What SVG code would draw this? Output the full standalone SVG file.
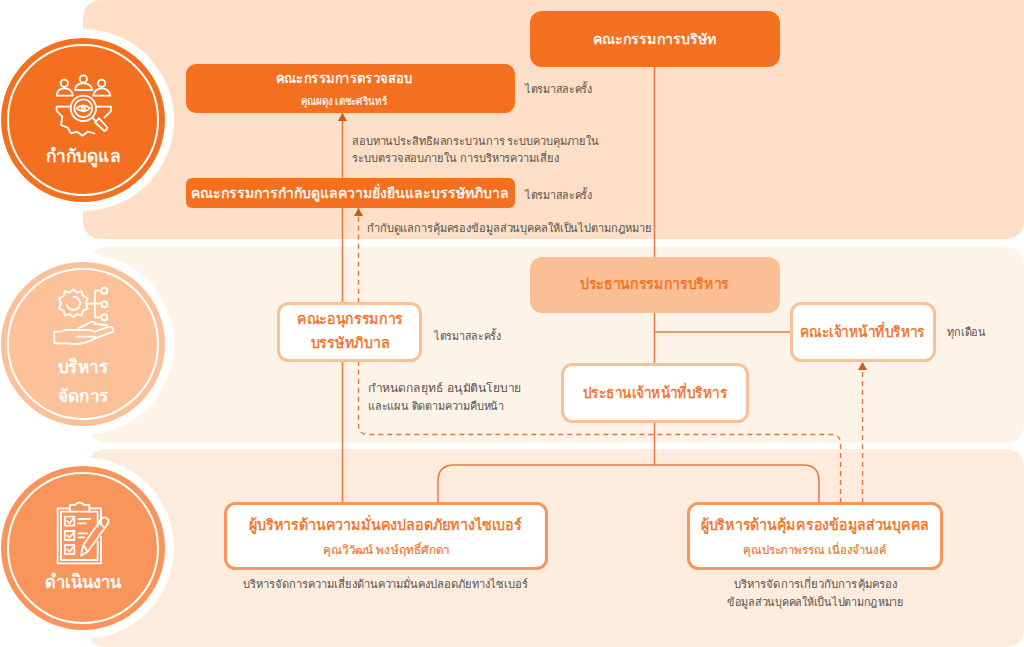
<svg xmlns="http://www.w3.org/2000/svg" width="1024" height="647" viewBox="0 0 1024 647">
<defs>
<style>
text{font-family:"Noto Sans","Open Sans","Liberation Sans",sans-serif;text-anchor:middle;font-kerning:normal}
.w{fill:#fff;stroke:#fff;stroke-width:.35;font-size:14px}
.ws{fill:#fff;stroke:#fff;stroke-width:.15;font-size:11px}
.o{fill:#f37021;stroke:#f37021;stroke-width:.4;font-size:14.500px}
.os{fill:#f37021;stroke:#f37021;stroke-width:.15;font-size:11.500px}
.n{fill:#58524e;font-size:11.200px}
.l{text-anchor:start}
.t{fill:#fff;stroke:#fff;stroke-width:.6;font-size:18px}
.b{fill:#fff;stroke:#fbbf95;stroke-width:3}
.b2{fill:#fff;stroke:#f9955a;stroke-width:3}
.c{fill:none;stroke:#e57a3c;stroke-width:1.500}
.d{fill:none;stroke:#e8743a;stroke-width:1.300;stroke-dasharray:5 4}
.i{fill:none;stroke:#fff;stroke-width:5.500;stroke-linejoin:round;stroke-linecap:round}
</style>
<marker id="a" markerWidth="9" markerHeight="9" refX="8" refY="4.500" orient="auto" markerUnits="userSpaceOnUse"><path d="M0 0L8 4.500L0 9Z" fill="#c9591c"/></marker>
</defs>
<rect width="1024" height="647" fill="#fff"/>
<g id="bands">
<path d="M83 20Q83 0 103 0H1024V219Q1024 239 1004 239H103Q83 239 83 219Z" fill="#fcdfc6"/>
<path d="M88 267Q88 247 108 247H1004Q1024 247 1024 267V423Q1024 443 1004 443H108Q88 443 88 423Z" fill="#fef3e9"/>
<path d="M88 469Q88 449 108 449H1004Q1024 449 1024 469V627Q1024 647 1004 647H108Q88 647 88 627Z" fill="#fdecdd"/>
</g>
<g id="connectors">
<path class="c" d="M654.500 67V465M654.500 332H791"/>
<path class="c" d="M438 503V481Q438 465 454 465H803Q819 465 819 481V503"/>
<path class="c" d="M342.500 178V113" marker-end="url(#a)"/>
<path class="c" d="M342.500 503V208"/>
<path class="d" d="M840.500 503V444Q840.500 434.500 831 434.500H368Q358.500 434.500 358.500 425V208" marker-end="url(#a)"/>
<path class="d" d="M862.500 503V362" marker-end="url(#a)"/>
</g>
<g id="stage-oversight">
<circle cx="83" cy="120" r="91" fill="#fff"/><circle cx="83" cy="120" r="82" fill="#f37021"/><circle cx="83" cy="120" r="75" fill="none" stroke="#fff" stroke-width="2"/>
<g transform="translate(45 65) scale(.33333)" class="i">
<circle cx="58" cy="55" r="11"/><circle cx="115" cy="42" r="11"/><circle cx="170" cy="55" r="11"/>
<path d="M35 92Q37 70 58 70Q80 70 84 92ZM90 75Q92 55 115 55Q138 55 142 75ZM145 92Q149 70 170 70Q192 70 196 92Z"/>
<path d="M77 125H35V138L52 155L48 180L68 188L78 205L96 200L112 212L128 200L148 205M155 125H198V138L178 158"/>
<circle cx="115" cy="130" r="38"/><circle cx="115" cy="130" r="27"/>
<path d="M95 130Q115 112 135 130Q115 148 95 130Z"/><circle cx="115" cy="130" r="5"/>
<path d="M142 158L152 168M150 172L162 160L186 186Q188 194 178 198Z"/>
</g>
<text class="t" x="83" y="162" textLength="75" lengthAdjust="spacingAndGlyphs">กำกับดูแล</text>
</g>
<g id="stage-management">
<circle cx="83" cy="344" r="91" fill="#fff"/><circle cx="83" cy="344" r="82" fill="#fcc198"/><circle cx="83" cy="344" r="75" fill="none" stroke="#fff" stroke-width="2"/>
<g transform="translate(45 280) scale(.33333)" class="i">
<path d="M85 28L96 38L110 33L114 48L128 54L122 70L128 86L114 92L110 107L96 102L85 112L74 102L60 107L56 92L42 86L48 70L42 54L56 48L60 33L74 38Z"/>
<path d="M85 50A20 20 0 1 1 66 75"/>
<path d="M125 71H168M150 32V112M150 32H169M150 112H169"/>
<circle cx="178" cy="32" r="9"/><circle cx="178" cy="73" r="9"/><circle cx="178" cy="112" r="9"/>
<path d="M28 155V190H70Q110 198 150 175L205 155Q205 138 190 140L150 155Q142 150 130 150H78Q58 148 48 155ZM95 170H150M100 145L140 125Q150 124 150 132M150 132L185 135"/>
</g>
<text class="t" x="83" y="373" textLength="50" lengthAdjust="spacingAndGlyphs">บริหาร</text>
<text class="t" x="83" y="402" textLength="51" lengthAdjust="spacingAndGlyphs">จัดการ</text>
</g>
<g id="stage-operation">
<circle cx="83" cy="548" r="91" fill="#fff"/><circle cx="83" cy="548" r="82" fill="#f9955a"/><circle cx="83" cy="548" r="75" fill="none" stroke="#fff" stroke-width="2"/>
<g transform="translate(45 495) scale(.33333)" class="i">
<path d="M75 40H38V205H168V125M133 40H168V85M48 50V195H158V140M75 50V30H90Q103 15 118 30H133V50ZM133 50H158V95M75 50H48"/>
<rect x="60" y="65" width="28" height="27"/><rect x="60" y="108" width="28" height="27"/><rect x="60" y="150" width="28" height="27"/>
<path d="M67 78L73 85L84 72M67 121L73 128L84 115M67 163L73 170L84 157M100 72H135M100 85H122M100 115H127M100 127H118"/>
<path d="M108 182L115 150L170 70Q180 62 190 75Q192 82 186 90L128 170ZM115 150L128 170M160 82L178 97"/>
</g>
<text class="t" x="83" y="588" textLength="76" lengthAdjust="spacingAndGlyphs">ดำเนินงาน</text>
</g>
<g id="board"><rect x="530" y="11" width="250" height="56" rx="12" fill="#f37021"/><text class="w" x="654.500" y="44" textLength="123" lengthAdjust="spacingAndGlyphs">คณะกรรมการบริษัท</text></g>
<g id="audit"><rect x="186" y="64" width="329" height="49" rx="10" fill="#f37021"/><text class="w" x="344" y="83" textLength="136" lengthAdjust="spacingAndGlyphs">คณะกรรมการตรวจสอบ</text><text class="ws" x="344" y="105" textLength="86" lengthAdjust="spacingAndGlyphs">คุณผดุง เตชะศรินทร์</text></g>
<text class="n l" x="525" y="93" textLength="67" lengthAdjust="spacingAndGlyphs">ไตรมาสละครั้ง</text>
<text class="n l" x="352" y="145" textLength="247" lengthAdjust="spacingAndGlyphs">สอบทานประสิทธิผลกระบวนการ ระบบควบคุมภายใน</text>
<text class="n l" x="352" y="162" textLength="207" lengthAdjust="spacingAndGlyphs">ระบบตรวจสอบภายใน การบริหารความเสี่ยง</text>
<g id="sustainability"><rect x="186" y="178" width="329" height="30" rx="6" fill="#f37021"/><text class="w" x="350" y="198" textLength="318" lengthAdjust="spacingAndGlyphs">คณะกรรมการกำกับดูแลความยั่งยืนและบรรษัทภิบาล</text></g>
<text class="n l" x="525" y="199" textLength="67" lengthAdjust="spacingAndGlyphs">ไตรมาสละครั้ง</text>
<text class="n l" x="367" y="232" textLength="285" lengthAdjust="spacingAndGlyphs">กำกับดูแลการคุ้มครองข้อมูลส่วนบุคคลให้เป็นไปตามกฎหมาย</text>
<g id="exec-chair"><rect x="530" y="257" width="250" height="56" rx="12" fill="#fbbf95"/><text class="o" x="654.500" y="289" textLength="149" lengthAdjust="spacingAndGlyphs">ประธานกรรมการบริหาร</text></g>
<g id="subcommittee"><rect class="b" x="278.500" y="303.500" width="142" height="57" rx="10"/><text class="o" x="350" y="324" textLength="106" lengthAdjust="spacingAndGlyphs">คณะอนุกรรมการ</text><text class="o" x="350" y="348" textLength="79" lengthAdjust="spacingAndGlyphs">บรรษัทภิบาล</text></g>
<text class="n l" x="434" y="340" textLength="67" lengthAdjust="spacingAndGlyphs">ไตรมาสละครั้ง</text>
<g id="exec-committee"><rect class="b" x="791.500" y="303.500" width="143" height="57" rx="10"/><text class="o" x="862.500" y="337" textLength="125" lengthAdjust="spacingAndGlyphs">คณะเจ้าหน้าที่บริหาร</text></g>
<text class="n l" x="947" y="336" textLength="39" lengthAdjust="spacingAndGlyphs">ทุกเดือน</text>
<g id="ceo"><rect class="b" x="562.500" y="364.500" width="185" height="57" rx="10"/><text class="o" x="655" y="398" textLength="144" lengthAdjust="spacingAndGlyphs">ประธานเจ้าหน้าที่บริหาร</text></g>
<text class="n l" x="368" y="392" textLength="154" lengthAdjust="spacingAndGlyphs">กำหนดกลยุทธ์ อนุมัตินโยบาย</text>
<text class="n l" x="368" y="410" textLength="136" lengthAdjust="spacingAndGlyphs">และแผน ติดตามความคืบหน้า</text>
<g id="cyber"><rect class="b2" x="225.500" y="503.500" width="321" height="65" rx="10"/><text class="o" x="385.500" y="530" textLength="273" lengthAdjust="spacingAndGlyphs">ผู้บริหารด้านความมั่นคงปลอดภัยทางไซเบอร์</text><text class="os" x="386" y="554" textLength="126" lengthAdjust="spacingAndGlyphs">คุณวิวัฒน์ พงษ์ฤทธิ์ศักดา</text></g>
<text class="n" x="385.500" y="588" textLength="285" lengthAdjust="spacingAndGlyphs">บริหารจัดการความเสี่ยงด้านความมั่นคงปลอดภัยทางไซเบอร์</text>
<g id="pdpa"><rect class="b2" x="688.500" y="503.500" width="253" height="65" rx="10"/><text class="o" x="815" y="530" textLength="228" lengthAdjust="spacingAndGlyphs">ผู้บริหารด้านคุ้มครองข้อมูลส่วนบุคคล</text><text class="os" x="815" y="554" textLength="144" lengthAdjust="spacingAndGlyphs">คุณประภาพรรณ เนื่องจำนงค์</text></g>
<text class="n" x="815.500" y="588" textLength="163" lengthAdjust="spacingAndGlyphs">บริหารจัดการเกี่ยวกับการคุ้มครอง</text>
<text class="n" x="815.500" y="606" textLength="177" lengthAdjust="spacingAndGlyphs">ข้อมูลส่วนบุคคลให้เป็นไปตามกฎหมาย</text>
</svg>
